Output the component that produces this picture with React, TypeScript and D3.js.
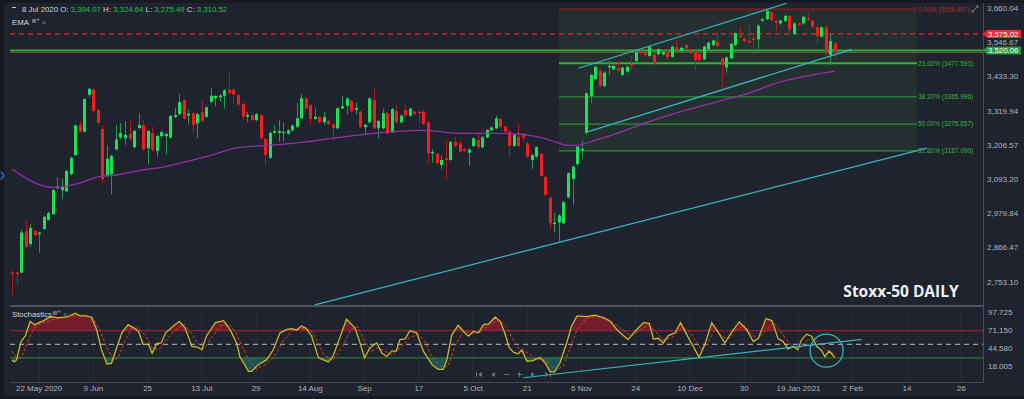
import * as d3 from 'd3'

type Bar = [number, number, number, number] // open, high, low, close
type Pt = [number, number] // bar index, value

// ---- candles ----
const barsMayToJun: Bar[] = [
  [2784, 2790, 2709, 2779], [2784, 2788, 2745, 2779], [2783, 2925, 2781, 2916], [2921, 2954, 2865, 2869],
  [2878, 2944, 2869, 2931], [2922, 2926, 2902, 2907], [2911, 2919, 2849, 2916], [2928, 2972, 2924, 2968],
  [2958, 2985, 2955, 2981], [2977, 3060, 2974, 3057], [3063, 3100, 3060, 3068], [3057, 3095, 3028, 3067],
  [3053, 3125, 3050, 3120], [3110, 3168, 3105, 3164], [3173, 3275, 3170, 3271], [3272, 3286, 3247, 3251],
  [3251, 3362, 3248, 3359], [3373, 3396, 3366, 3393], [3391, 3394, 3316, 3320], [3323, 3327, 3276, 3280],
  [3260, 3273, 3080, 3093], [3106, 3206, 3100, 3161], [3109, 3175, 3044, 3170], [3192, 3273, 3188, 3225],
  [3232, 3280, 3225, 3246], [3229, 3286, 3206, 3240], [3243, 3293, 3222, 3227], [3199, 3258, 3195, 3253],
  [3263, 3312, 3260, 3273], [3273, 3289, 3188, 3192], [3196, 3256, 3143, 3253], [3246, 3267, 3185, 3190],
  [3187, 3240, 3168, 3236], [3236, 3253, 3230, 3249], [3236, 3247, 3176, 3243], [3231, 3306, 3228, 3303],
  [3300, 3330, 3296, 3306], [3309, 3375, 3305, 3349], [3356, 3360, 3290, 3294],
  [3304.07, 3324.64, 3275.49, 3310.52],
]
const barsJulToAug: Bar[] = [
  [3312, 3316, 3246, 3273], [3278, 3313, 3230, 3309], [3315, 3352, 3283, 3287], [3300, 3336, 3296, 3332],
  [3350, 3395, 3346, 3370], [3362, 3372, 3336, 3369], [3365, 3375, 3350, 3371], [3370, 3392, 3327, 3388],
  [3390, 3450, 3375, 3380], [3390, 3394, 3342, 3375], [3372, 3376, 3337, 3341], [3343, 3347, 3289, 3300],
  [3300, 3317, 3284, 3306], [3306, 3310, 3285, 3289], [3289, 3313, 3285, 3309], [3306, 3310, 3225, 3229],
  [3226, 3230, 3140, 3173], [3164, 3251, 3160, 3247], [3247, 3273, 3243, 3253], [3247, 3289, 3217, 3253],
  [3246, 3280, 3217, 3250], [3244, 3259, 3240, 3255], [3255, 3274, 3251, 3271], [3267, 3346, 3263, 3295],
  [3295, 3375, 3291, 3362], [3361, 3365, 3324, 3328], [3339, 3343, 3273, 3293], [3293, 3328, 3289, 3300],
  [3300, 3304, 3278, 3282], [3282, 3317, 3273, 3300], [3287, 3291, 3271, 3275], [3275, 3279, 3223, 3262],
  [3262, 3332, 3258, 3328], [3328, 3370, 3325, 3335], [3337, 3365, 3309, 3361], [3353, 3357, 3315, 3319],
  [3323, 3347, 3308, 3329], [3317, 3321, 3262, 3266], [3266, 3277, 3240, 3273], [3282, 3365, 3278, 3361],
]
const barsSepToOct: Bar[] = [
  [3356, 3392, 3258, 3262], [3262, 3290, 3229, 3286], [3262, 3327, 3258, 3312], [3312, 3316, 3241, 3245],
  [3249, 3330, 3245, 3326], [3319, 3339, 3278, 3282], [3282, 3308, 3278, 3304], [3323, 3343, 3300, 3304],
  [3304, 3331, 3300, 3327], [3317, 3321, 3305, 3309], [3317, 3320, 3278, 3312], [3317, 3321, 3272, 3276],
  [3282, 3286, 3146, 3179], [3179, 3192, 3148, 3184], [3177, 3181, 3142, 3146], [3140, 3173, 3126, 3157],
  [3163, 3223, 3093, 3157], [3157, 3221, 3153, 3217], [3217, 3233, 3199, 3203], [3212, 3223, 3180, 3184],
  [3194, 3198, 3183, 3187], [3181, 3196, 3137, 3192], [3203, 3232, 3199, 3229], [3223, 3245, 3195, 3199],
  [3199, 3236, 3195, 3232], [3232, 3260, 3228, 3256], [3256, 3269, 3252, 3265], [3262, 3304, 3258, 3295],
  [3293, 3297, 3263, 3267], [3267, 3271, 3247, 3251], [3251, 3255, 3168, 3204], [3204, 3244, 3200, 3240],
  [3234, 3278, 3199, 3203], [3240, 3245, 3218, 3230], [3212, 3216, 3164, 3168], [3157, 3177, 3126, 3173],
  [3168, 3203, 3164, 3199], [3177, 3181, 3100, 3104], [3101, 3105, 3037, 3041], [3032, 3036, 2925, 2947],
]
const barsNovToDec: Bar[] = [
  [2944, 2980, 2916, 2949], [2950, 2977, 2886, 2973], [2947, 3021, 2943, 3017], [3033, 3117, 3029, 3113],
  [3094, 3139, 3008, 3135], [3143, 3205, 3139, 3201], [3188, 3220, 3162, 3194], [3247, 3382, 3240, 3378],
  [3369, 3443, 3345, 3439], [3425, 3470, 3421, 3466], [3453, 3457, 3398, 3402], [3402, 3450, 3398, 3446],
  [3464, 3488, 3439, 3469], [3458, 3473, 3454, 3469], [3461, 3483, 3449, 3453], [3439, 3467, 3435, 3463],
  [3450, 3470, 3446, 3466], [3474, 3502, 3455, 3469], [3485, 3518, 3481, 3514], [3518, 3522, 3507, 3511],
  [3513, 3517, 3501, 3505], [3502, 3537, 3498, 3533], [3507, 3511, 3474, 3478], [3508, 3528, 3504, 3524],
  [3507, 3518, 3503, 3514], [3516, 3520, 3493, 3497], [3499, 3537, 3495, 3533], [3531, 3555, 3518, 3522],
  [3519, 3533, 3515, 3529], [3538, 3542, 3523, 3527], [3522, 3526, 3507, 3511], [3513, 3517, 3455, 3488],
  [3508, 3512, 3484, 3488], [3491, 3537, 3487, 3533], [3524, 3550, 3520, 3546], [3538, 3557, 3534, 3553],
  [3549, 3580, 3531, 3535], [3494, 3498, 3394, 3472], [3464, 3501, 3446, 3497], [3494, 3546, 3490, 3542],
]
const barsDecToJan: Bar[] = [
  [3538, 3581, 3534, 3577], [3569, 3601, 3560, 3564], [3560, 3564, 3546, 3550], [3552, 3605, 3542, 3546],
  [3560, 3577, 3522, 3555], [3557, 3606, 3525, 3602], [3619, 3628, 3615, 3624], [3624, 3656, 3620, 3652],
  [3647, 3651, 3617, 3621], [3619, 3623, 3586, 3612], [3610, 3623, 3606, 3619], [3618, 3639, 3614, 3635],
  [3635, 3639, 3571, 3590], [3575, 3614, 3571, 3610], [3610, 3614, 3601, 3605], [3610, 3636, 3606, 3632],
  [3627, 3645, 3617, 3621], [3619, 3623, 3595, 3599], [3597, 3601, 3538, 3568], [3566, 3601, 3562, 3597],
  [3597, 3605, 3507, 3511], [3505, 3575, 3472, 3551], [3544, 3548, 3488, 3520],
]

// EMA read at points along the line
const emaPoints: Pt[] = [
  [0, 3127], [9, 3066], [15, 3080], [19, 3101], [23, 3107], [29, 3124], [34, 3135], [39, 3153],
  [44, 3172], [50, 3198], [57.5, 3206], [65, 3217], [72, 3231], [80, 3245], [90, 3255], [92.5, 3254],
  [99, 3245], [106, 3245], [112, 3243], [116, 3234], [119, 3223], [123, 3205], [125, 3205], [127, 3213],
  [134, 3246], [141, 3284], [148, 3317], [156, 3350], [163, 3379], [170, 3416], [175, 3433], [178, 3442],
  [182, 3452],
]

// Stochastics %K and %D
const stochK: Pt[] = [
  [0, 27], [0.5, 24], [1, 27], [2, 54], [3, 63], [4, 84], [5, 79], [6, 82], [7, 85], [8, 89], [9, 91],
  [10, 89], [12, 90], [14, 96], [15, 92], [16.5, 92], [17.6, 90], [18.7, 72], [19.8, 42], [21, 21],
  [22, 22], [23, 42], [24.3, 67], [25.7, 79], [27, 74], [28, 69], [29, 50], [30.2, 50], [31, 37],
  [32, 51], [33, 52], [34, 67], [35.7, 77], [37, 84], [38.3, 74], [39.8, 47], [41, 46], [42, 42],
  [43, 62], [45, 82], [46.8, 85], [48.2, 72], [49.7, 52], [50.4, 32], [52.3, 10], [53, 10], [54.5, 20],
  [56.3, 27], [57.8, 42], [59.3, 67], [60.8, 72], [62, 73], [63, 71], [64, 77], [65, 74], [66.3, 62],
  [67.8, 30], [70, 24], [71, 32], [72.2, 54], [74, 87], [75.9, 74], [77, 52], [78, 30], [79.2, 45],
  [80.7, 52], [81.8, 37], [82.9, 32], [84, 40], [85, 40], [85.8, 57], [87, 58], [88, 70], [89.5, 67],
  [91, 40], [92.9, 20], [94.3, 13], [95.4, 13], [96.2, 27], [97.3, 64], [98.7, 78], [99.9, 69],
  [101, 62], [102, 69], [103.2, 67], [104.3, 79], [105.4, 80], [106.9, 90], [108, 84], [109, 67],
  [110, 45], [111, 38], [112, 36], [112.8, 42], [113.9, 25], [115.3, 26], [116.8, 31], [118, 22],
  [119, 10], [120, 9], [121.2, 22], [122.7, 52], [123.8, 77], [125, 92], [127.1, 91], [129, 93],
  [130.9, 89], [132.3, 84], [134.2, 69], [136.3, 57], [137.8, 69], [139.7, 82], [141, 81], [141.9, 58],
  [143, 59], [144.1, 52], [145.2, 63], [146.7, 67], [147.9, 82], [149.3, 64], [150.7, 47], [152, 31],
  [153.4, 52], [154.8, 82], [156.3, 67], [157.7, 52], [159.3, 69], [160.9, 83], [162.5, 72], [164, 54],
  [165.1, 59], [166.8, 88], [168.1, 85], [169.5, 58], [170.6, 54], [171.7, 43], [172.8, 47], [173.8, 42],
  [174.7, 57], [175.8, 65], [176.9, 62], [178, 47], [179.1, 41], [179.8, 32], [180.8, 40], [182, 31],
]
const stochD: Pt[] = [
  [0, 40], [1, 30], [2, 30], [3, 45], [4, 62], [5, 75], [6, 80], [8, 84], [10, 89], [12, 90], [14, 93],
  [16, 93], [18, 88], [19.5, 70], [21, 45], [22.5, 27], [23.5, 30], [25, 55], [26.5, 74], [28, 74],
  [29.5, 63], [31, 45], [32.5, 42], [34, 55], [36, 70], [38, 80], [39.5, 68], [41, 52], [42.5, 44],
  [44, 58], [46, 77], [48, 80], [49.5, 68], [51, 45], [52.5, 25], [54, 14], [56, 20], [58, 32],
  [60, 55], [62, 70], [64, 73], [66, 72], [67.5, 55], [69, 35], [71, 26], [73, 45], [75, 72],
  [76.5, 76], [78, 55], [79.5, 40], [81, 45], [82.5, 40], [84, 35], [86, 45], [88, 60], [90, 65],
  [91.5, 52], [93, 30], [95, 17], [96.5, 18], [98, 48], [100, 70], [102, 66], [104, 70], [106, 82],
  [108, 85], [109.5, 75], [111, 55], [112.5, 40], [114, 38], [116, 28], [117.5, 28], [119, 20],
  [120.5, 12], [122, 18], [123.5, 45], [125, 72], [127, 88], [129, 91], [131, 90], [133, 82], [135, 72],
  [137, 62], [139, 72], [141, 78], [142.5, 68], [144, 57], [146, 60], [148, 73], [149.5, 72], [151, 58],
  [152.5, 42], [154, 52], [155.5, 72], [157, 62], [158.5, 58], [160, 70], [162, 78], [163.5, 65],
  [165, 58], [167, 72], [168.5, 82], [170, 70], [171.5, 55], [173, 46], [174.5, 46], [176, 56],
  [177.5, 58], [179, 48], [180.5, 40], [182, 36],
]

// axes
const priceTicks = [3660.04, 3546.67, 3433.3, 3319.94, 3206.57, 3093.2, 2979.84, 2866.47, 2753.1]
const stochTicks = [97.725, 71.15, 44.58, 18.005]
const dateTickIdx = [6, 18, 30, 42, 54, 66, 78, 90, 102, 114, 126, 138, 150, 162, 174, 186, 198, 210]
const dateTickLabels = ['22 May 2020', '9 Jun', '25', '13 Jul', '29', '14 Aug', 'Sep', '17', '5 Oct', '21',
  '6 Nov', '24', '10 Dec', '30', '19 Jan 2021', '2 Feb', '14', '26']

// drawings
const fibLabels = ['0.00%', '23.60%', '38.20%', '50.00%', '61.80%']
const fibValues = [3656.497, 3477.591, 3365.996, 3275.657, 3187.09]
const fibSpan = [121, 200.2]
const lastPrice = 3520.06
const alertPrice = 3575.02
const trendLines: Pt[][] = [
  [[125.3, 3461], [171.4, 3677]],
  [[127.5, 3251], [185.8, 3524]],
  [[67, 2676], [202.4, 3196]],
]
const stochTrend: Pt[] = [[113.1, 0.7], [188, 57.4]]
const stochCircle: Pt = [180.2, 40.6]

const FONT = "'Liberation Sans', Arial, sans-serif"
const BG = '#1f232d'
const AXIS_TXT = '#b2b5be'
const UP = '#17e35a'
const DOWN = '#f41c1c'
const UP_WICK = '#1f9a4b'
const DOWN_WICK = '#a81e1e'
const CYAN = '#34b5c0'

const fmt = d3.format(',.2f')

export default function App() {
  const bars = [...barsMayToJun, ...barsJulToAug, ...barsSepToOct, ...barsNovToDec, ...barsDecToJan]
  const x = d3.scaleLinear().domain([0, 182]).range([12, 834.7])
  const yP = d3.scaleLinear().domain([2753.1, 3660.04]).range([281.7, 8.3])
  const yS = d3.scaleLinear().domain([18.005, 97.725]).range([366, 312])

  const axisX = 983
  const left = 10
  const mainTop = 3
  const mainBottom = 305.5
  const stochTop = 306.5
  const stochBottom = 382

  const emaPath = d3.line<Pt>().x(d => x(d[0])).y(d => yP(d[1])).curve(d3.curveMonotoneX)(emaPoints)
  const kPath = d3.line<Pt>().x(d => x(d[0])).y(d => yS(d[1]))(stochK)
  const dPath = d3.line<Pt>().x(d => x(d[0])).y(d => yS(d[1]))(stochD)
  const hiArea = d3.area<Pt>().x(d => x(d[0])).y0(yS(70)).y1(d => yS(d[1]))(stochK)
  const loArea = d3.area<Pt>().x(d => x(d[0])).y0(yS(30)).y1(d => yS(d[1]))(stochK)

  const tag = (v: number, color: string) => {
    const cy = yP(v)
    return (
      <g key={v}>
        <path d={`M${axisX},${cy} L${axisX + 4},${cy - 4} L1021,${cy - 4} L1021,${cy + 4} L${axisX + 4},${cy + 4} Z`} fill={color} />
        <text x={axisX + 5} y={cy + 2.7} fontSize={7.8} fill="#fff">{fmt(v)}</text>
      </g>
    )
  }

  return (
    <svg width={1024} height={399} style={{ position: 'fixed', left: 0, top: 0 }} fontFamily={FONT}>
      <defs>
        <clipPath id="mainClip"><rect x={left} y={mainTop} width={axisX - left} height={mainBottom - mainTop} /></clipPath>
        <clipPath id="stochClip"><rect x={left} y={stochTop} width={axisX - left} height={stochBottom - stochTop} /></clipPath>
        <clipPath id="hiClip"><rect x={left} y={stochTop} width={axisX - left} height={yS(70) - stochTop} /></clipPath>
        <clipPath id="loClip"><rect x={left} y={yS(30)} width={axisX - left} height={stochBottom - yS(30)} /></clipPath>
      </defs>
      <rect width={1024} height={399} fill="#161920" />
      <rect x={4} y={3} width={1024} height={393} rx={5} fill={BG} />

      {/* stochastics grid */}
      {dateTickIdx.map(i => (
        <line key={i} x1={x(i)} x2={x(i)} y1={stochTop} y2={stochBottom} stroke="#2b2f3a" strokeWidth={1} />
      ))}

      {/* main panel */}
      <g clipPath="url(#mainClip)">
        <rect x={x(fibSpan[0])} y={yP(fibValues[0])} width={x(fibSpan[1]) - x(fibSpan[0])}
          height={yP(fibValues[4]) - yP(fibValues[0])} fill="rgba(60,140,60,0.13)" />
        <line x1={left} x2={axisX} y1={yP(alertPrice)} y2={yP(alertPrice)} stroke="#e0282f" strokeWidth={1.2} strokeDasharray="5,4" />
        <line x1={left} x2={axisX} y1={yP(lastPrice)} y2={yP(lastPrice)} stroke="#35a83f" strokeWidth={2} />
        <line x1={left} x2={axisX} y1={yP(lastPrice) + 2} y2={yP(lastPrice) + 2} stroke="#7a6a2c" strokeWidth={0.8} />
        {fibValues.map((v, k) => (
          <line key={k} x1={x(fibSpan[0])} x2={x(fibSpan[1])} y1={yP(v)} y2={yP(v)}
            stroke={k === 0 ? '#6e2020' : k === 1 ? '#2fb33a' : '#2a8f30'} strokeWidth={k < 2 ? 2 : 1.3} />
        ))}
        {bars.map((b, i) => {
          const [o, h, l, c] = b
          const up = c >= o
          const cx = Math.round(x(i)) + 0.5
          const top = yP(Math.max(o, c))
          const bh = Math.max(1, yP(Math.min(o, c)) - top)
          return (
            <g key={i}>
              <line x1={cx} x2={cx} y1={yP(h)} y2={yP(l)} stroke={up ? UP_WICK : DOWN_WICK} strokeWidth={1} />
              <rect x={cx - 1.5} y={top} width={3} height={bh} fill={up ? UP : DOWN} />
            </g>
          )
        })}
        <path d={emaPath ?? ''} fill="none" stroke="#9430a6" strokeWidth={1.3} />
        {trendLines.map((t, k) => (
          <line key={k} x1={x(t[0][0])} y1={yP(t[0][1])} x2={x(t[1][0])} y2={yP(t[1][1])} stroke={CYAN} strokeWidth={1.2} />
        ))}
      </g>
      {fibValues.map((v, k) => (
        <text key={k} x={x(fibSpan[1]) + 1} y={yP(v) + 2.3} fontSize={6.5} fill={k === 0 ? '#a03030' : '#3cb043'}>
          {`${fibLabels[k]} (${v.toFixed(3)})`}
        </text>
      ))}

      {/* stochastics panel */}
      <g clipPath="url(#stochClip)">
        <path d={hiArea ?? ''} fill="rgba(170,25,45,0.6)" clipPath="url(#hiClip)" />
        <path d={loArea ?? ''} fill="rgba(25,120,110,0.6)" clipPath="url(#loClip)" />
        <line x1={left} x2={axisX} y1={yS(70)} y2={yS(70)} stroke="#b3202a" strokeWidth={1} />
        <line x1={left} x2={axisX} y1={yS(30)} y2={yS(30)} stroke="#2c8a35" strokeWidth={1} />
        <line x1={left} x2={axisX} y1={yS(50)} y2={yS(50)} stroke="#9a9da6" strokeWidth={1.3} strokeDasharray="5,4" />
        <path d={dPath ?? ''} fill="none" stroke="#e23a3a" strokeWidth={1} strokeDasharray="3,2" />
        <path d={kPath ?? ''} fill="none" stroke="#cdb823" strokeWidth={1.3} />
        <line x1={x(stochTrend[0][0])} y1={yS(stochTrend[0][1])} x2={x(stochTrend[1][0])} y2={yS(stochTrend[1][1])} stroke={CYAN} strokeWidth={1.2} />
        <circle cx={x(stochCircle[0])} cy={yS(stochCircle[1])} r={16.5} fill="none" stroke={CYAN} strokeWidth={1.3} />
      </g>

      {/* frame lines */}
      <line x1={left} x2={axisX} y1={306} y2={306} stroke="#80838c" strokeWidth={1} />
      <line x1={left} x2={axisX} y1={382.5} y2={382.5} stroke="#434651" strokeWidth={1} />
      <line x1={axisX + 0.5} x2={axisX + 0.5} y1={mainTop} y2={382.5} stroke="#4a4e59" strokeWidth={1} />

      {/* price axis */}
      {priceTicks.map(v => (
        <text key={v} x={987} y={yP(v) + 2.8} fontSize={8} fill={AXIS_TXT}>{fmt(v)}</text>
      ))}
      {tag(alertPrice, '#ee2a33')}
      {tag(lastPrice, '#2f9a44')}
      {stochTicks.map(v => (
        <text key={v} x={988} y={yS(v) + 2.8} fontSize={8} fill={AXIS_TXT}>{v.toFixed(3)}</text>
      ))}

      {/* time axis */}
      {dateTickIdx.map((i, k) => (
        <text key={i} x={x(i)} y={391} fontSize={8} fill={AXIS_TXT} textAnchor="middle">{dateTickLabels[k]}</text>
      ))}

      {/* legends */}
      <line x1={12} x2={16} y1={7.5} y2={7.5} stroke="#c8cad0" strokeWidth={1} />
      <text x={22} y={11.5} fontSize={7.8} fill="#d1d4dc">
        8 Jul 2020 O: <tspan fill="#22c24c">3,304.07</tspan> H: <tspan fill="#22c24c">3,324.64</tspan> L: <tspan fill="#22c24c">3,275.49</tspan> C: <tspan fill="#22c24c">3,310.52</tspan>
      </text>
      <text x={12} y={25} fontSize={7.8} fill="#d1d4dc">EMA</text>
      <rect x={32} y={19} width={4} height={4} fill="#6d707a" />
      <circle cx={38} cy={19.5} r={1.3} fill="#6d707a" />
      <text x={42} y={25} fontSize={7.5} fill="#7b7e87">×</text>
      <text x={12} y={317} fontSize={7.8} fill="#d1d4dc">Stochastics</text>
      <rect x={53} y={311} width={4} height={4} fill="#6d707a" />
      <circle cx={59} cy={311.5} r={1.3} fill="#6d707a" />
      <text x={63} y={317} fontSize={7.5} fill="#7b7e87">×</text>

      <text x={901} y={297} fontSize={15.5} fontWeight="bold" fill="#eef0f4" textAnchor="middle"
        fontFamily="'Open Sans', 'Liberation Sans', sans-serif">Stoxx-50 DAILY</text>

      {/* top-right expand icon */}
      <path d="M972,12 L975,9 M978,6 L975,9 M976,6 L978,6 L978,8 M972,10 L972,12 L974,12" stroke="#8a8d96" strokeWidth={0.8} fill="none" />

      {/* collapse arrow on the left */}
      <path d="M1,171.5 L4,175.5 L1,179.5" stroke="#2962ff" strokeWidth={1.3} fill="none" />

      {/* navigation buttons */}
      <g fill="#6e717b" stroke="#6e717b">
        <rect x={476} y={372} width={1} height={5} stroke="none" />
        <path d="M482,372 L478,374.5 L482,377 Z" stroke="none" />
        <path d="M495,372 L491,374.5 L495,377 Z" stroke="none" />
        <line x1={504} x2={509} y1={374.5} y2={374.5} strokeWidth={1} />
        <line x1={517} x2={522} y1={374.5} y2={374.5} strokeWidth={1} />
        <line x1={519.5} x2={519.5} y1={372} y2={377} strokeWidth={1} />
        <path d="M531,372 L535,374.5 L531,377 Z" stroke="none" />
        <path d="M545,372 L549,374.5 L545,377 Z" stroke="none" />
        <rect x={550} y={372} width={1} height={5} stroke="none" />
      </g>
    </svg>
  )
}
